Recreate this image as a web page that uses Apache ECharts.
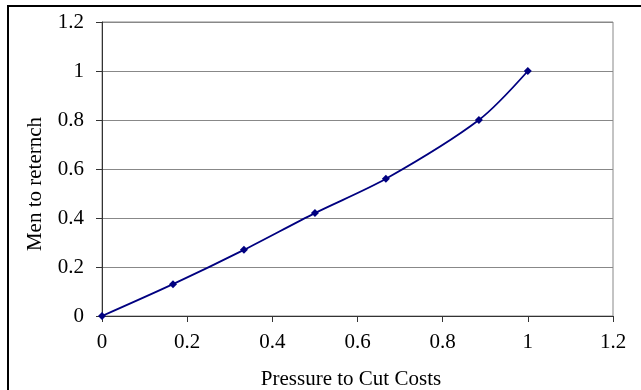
<!DOCTYPE html>
<html>
<head>
<meta charset="utf-8">
<script src="https://cdn.jsdelivr.net/npm/echarts@6/dist/echarts.min.js"></script>
<style>
  html, body { margin: 0; padding: 0; background: #fff; }
  #chart { width: 641px; height: 390px; }
</style>
</head>
<body>
<div id="chart"></div>
<script>
// Table function: pressure to cut costs -> men to retrench
const pressure = [0, 0.1667, 0.3333, 0.5, 0.6667, 0.885, 1];
const menToRetrench = [0, 0.13, 0.27, 0.42, 0.56, 0.8, 1];
const axisMin = 0, axisMax = 1.2, axisStep = 0.2;
const xTitle = 'Pressure to Cut Costs';
const yTitle = 'Men to reternch';

const serif = '"Liberation Serif", "Times New Roman", serif';
const fontPx = 21;
const chart = echarts.init(document.getElementById('chart'), null, { renderer: 'canvas' });

chart.setOption({
  animation: false,
  backgroundColor: '#fff',
  grid: {
    left: 102, right: 28, top: 22, bottom: 74,
    show: true, borderColor: '#888', borderWidth: 1, backgroundColor: 'transparent'
  },
  xAxis: {
    type: 'value', min: axisMin, max: axisMax, interval: axisStep,
    axisLine: { show: true, onZero: false, lineStyle: { color: '#333', width: 1 } },
    axisTick: { show: true, inside: false, length: 6, lineStyle: { color: '#333' } },
    axisLabel: { show: true, showMaxLabel: true, showMinLabel: true, margin: 16,
      fontFamily: serif, fontSize: fontPx, color: '#000' },
    splitLine: { show: false }
  },
  yAxis: {
    type: 'value', min: axisMin, max: axisMax, interval: axisStep,
    axisLine: { show: true, onZero: false, lineStyle: { color: '#333', width: 1 } },
    axisTick: { show: true, inside: false, length: 6, lineStyle: { color: '#333' } },
    axisLabel: { show: true, showMaxLabel: true, showMinLabel: true, margin: 18,
      fontFamily: serif, fontSize: fontPx, color: '#000' },
    splitLine: { show: true, lineStyle: { color: '#888', width: 1 } }
  },
  series: [{
    type: 'line',
    data: pressure.map((p, i) => [p, menToRetrench[i]]),
    smooth: 0.3,
    symbol: 'diamond',
    symbolSize: 8,
    showAllSymbol: true,
    lineStyle: { color: '#000080', width: 1.8 },
    itemStyle: { color: '#000080' }
  }],
  graphic: [
    // outer frame (left and top edges)
    { type: 'line', shape: { x1: 8, y1: 6, x2: 8, y2: 390 }, style: { stroke: '#000', lineWidth: 2 } },
    { type: 'line', shape: { x1: 7, y1: 6, x2: 641, y2: 6 }, style: { stroke: '#000', lineWidth: 2 } },
    {
      type: 'text', x: 351, y: 379,
      style: { text: xTitle, font: fontPx + 'px ' + serif, fill: '#000', align: 'center', verticalAlign: 'middle' }
    },
    {
      type: 'text', x: 35, y: 184, rotation: Math.PI / 2,
      style: { text: yTitle, font: fontPx + 'px ' + serif, fill: '#000', align: 'center', verticalAlign: 'middle' }
    }
  ]
});
</script>
</body>
</html>
